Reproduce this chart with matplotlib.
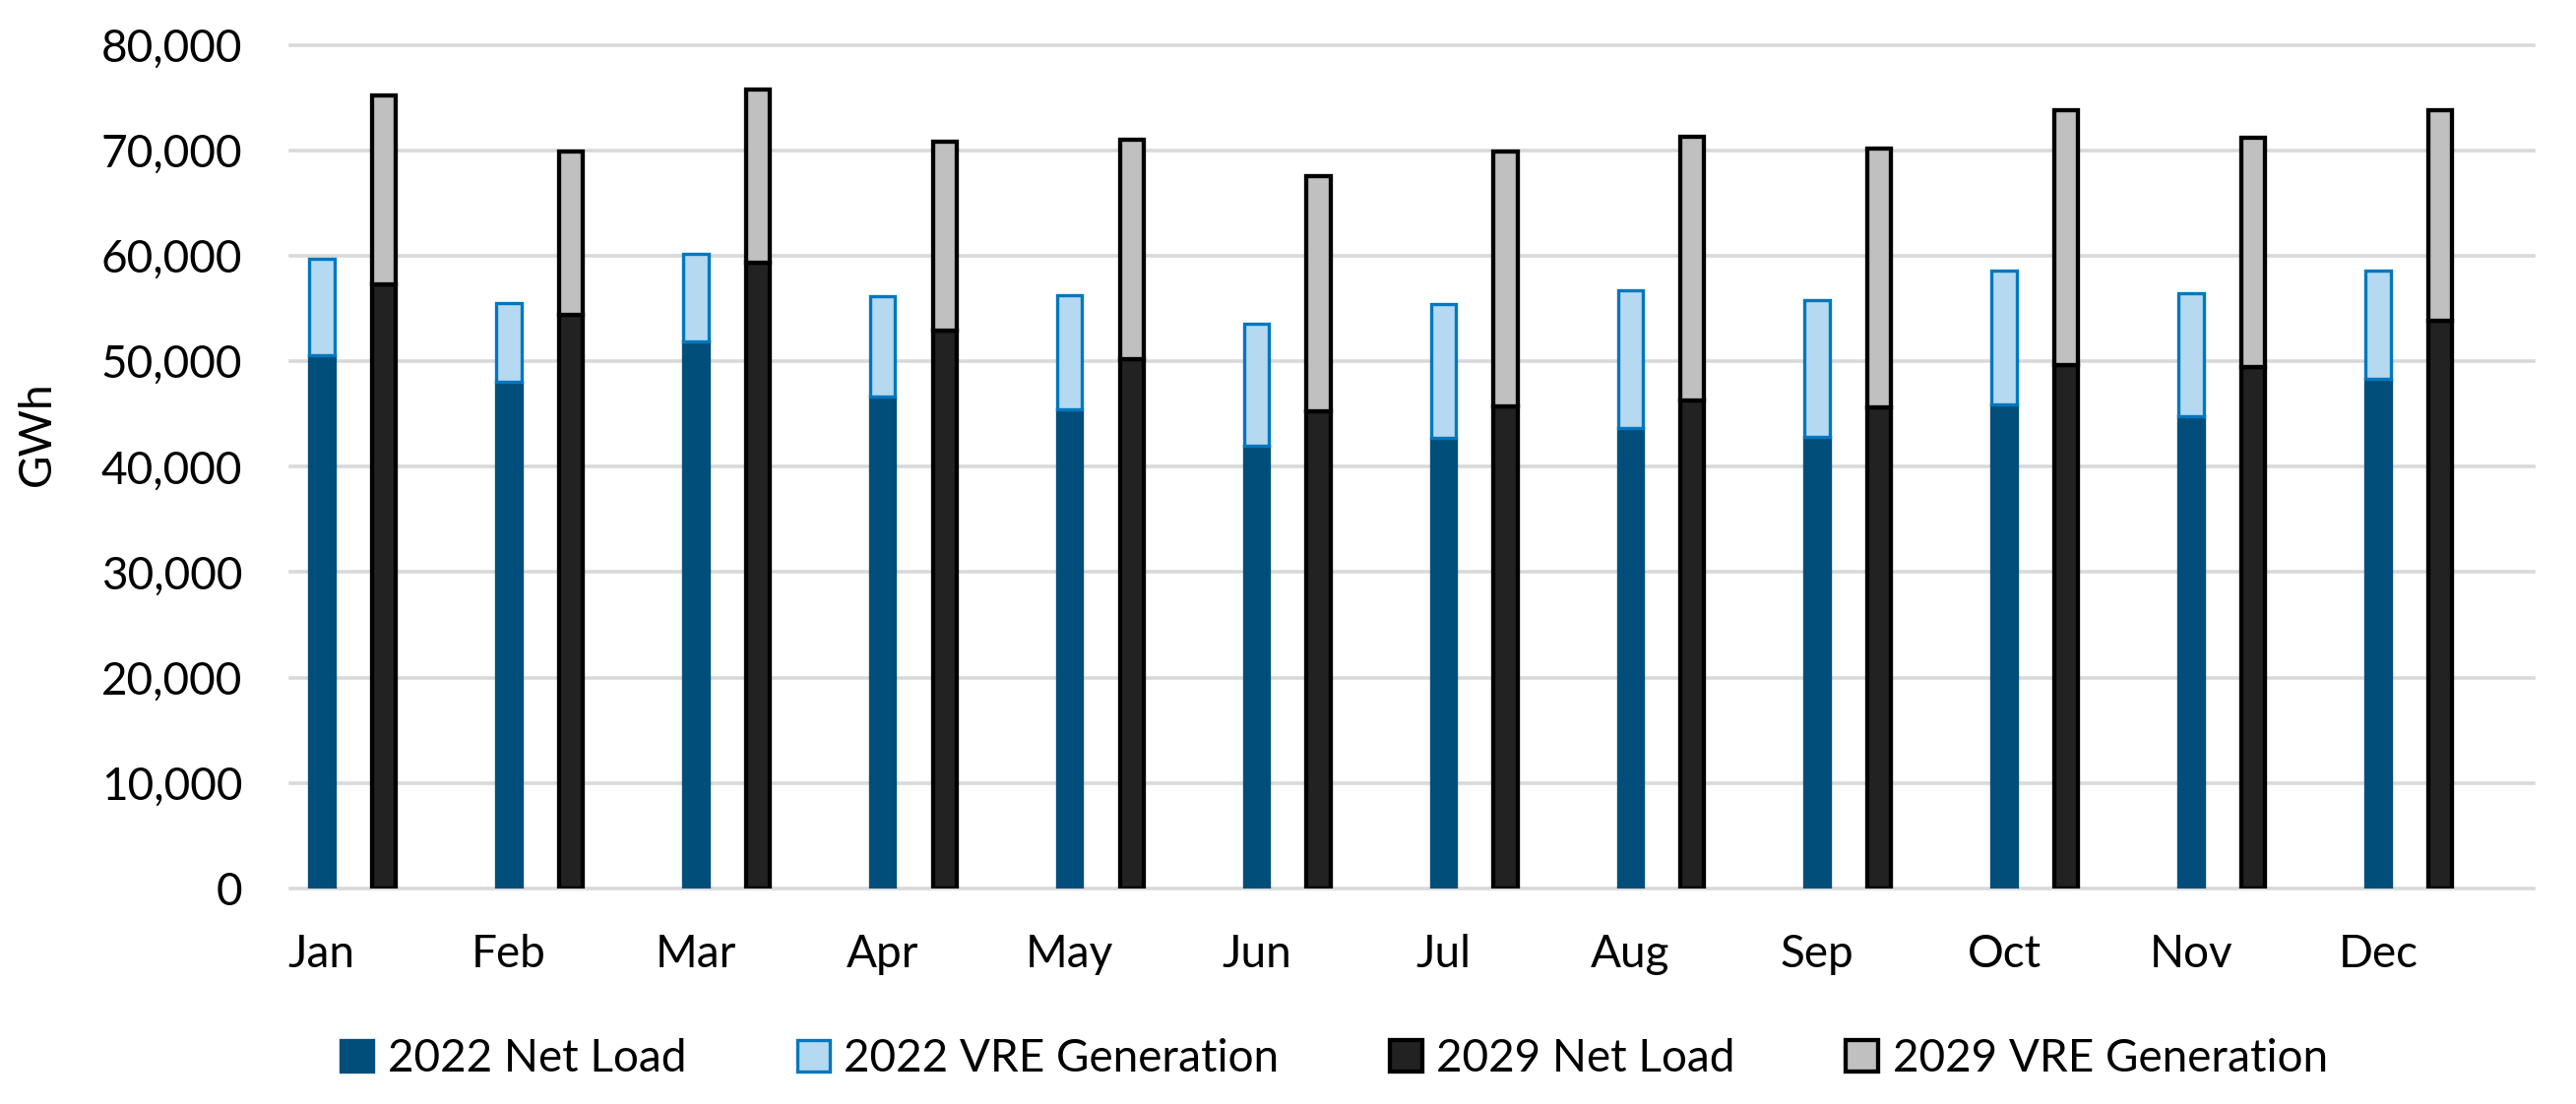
import matplotlib
matplotlib.use("Agg")
import matplotlib.pyplot as plt
import numpy as np
from matplotlib.ticker import FuncFormatter, MultipleLocator

months = ["Jan", "Feb", "Mar", "Apr", "May", "Jun", "Jul", "Aug", "Sep", "Oct", "Nov", "Dec"]
net_2022 = [50600, 48100, 51900, 46700, 45400, 42000, 42700, 43700, 42800, 45900, 44800, 48300]
vre_2022 = [9100, 7400, 8300, 9500, 10900, 11600, 12700, 13000, 13000, 12700, 11700, 10300]
net_2029 = [57300, 54400, 59300, 52900, 50200, 45300, 45700, 46300, 45600, 49600, 49500, 53800]
vre_2029 = [17900, 15500, 16500, 17900, 20800, 22300, 24200, 25000, 24600, 24200, 21700, 20000]
series_labels = ["2022 Net Load", "2022 VRE Generation", "2029 Net Load", "2029 VRE Generation"]

plt.rcParams['font.family'] = ['Lato', 'DejaVu Sans']
FS = 16.5

fig = plt.figure(figsize=(13.085, 5.61), dpi=200)
ax = fig.add_axes([0.1127, 0.1952, 0.9836 - 0.1127, 0.9593 - 0.1952])

x = np.arange(len(months))
off = 0.332
w22 = 0.135
w29 = 0.127
lw22 = 1.2
lw29 = 1.55

b1 = ax.bar(x, net_2022, width=w22, color='#024E7B', edgecolor='#024E7B', linewidth=lw22,
            label=series_labels[0], zorder=3)
b2 = ax.bar(x, vre_2022, width=w22, bottom=net_2022, color='#B5D9F0', edgecolor='#0077BE',
            linewidth=lw22, label=series_labels[1], zorder=3)
b3 = ax.bar(x + off, net_2029, width=w29, color='#222222', edgecolor='#000000', linewidth=lw29,
            label=series_labels[2], zorder=3)
b4 = ax.bar(x + off, vre_2029, width=w29, bottom=net_2029, color='#C0C0C0', edgecolor='#000000',
            linewidth=lw29, label=series_labels[3], zorder=3)

ax.set_xlim(-0.168, 11.832)
ax.set_ylim(0, 80000)
ax.yaxis.set_major_locator(MultipleLocator(10000))
ax.yaxis.set_major_formatter(FuncFormatter(lambda v, p: f"{int(v):,}"))
ax.set_xticks(x)
ax.set_xticklabels(months)
ax.tick_params(axis='both', length=0, labelsize=FS, colors='black')
ax.tick_params(axis='y', pad=17.5)
ax.tick_params(axis='x', pad=16.5)

for s in ax.spines.values():
    s.set_visible(False)
ax.set_axisbelow(True)
ax.yaxis.grid(True, color='#D9D9D9', linewidth=1.3)
for gl in ax.get_ygridlines():
    gl.set_clip_on(False)
ax.xaxis.grid(False)

ax.set_ylabel("GWh", fontsize=FS)
ax.yaxis.set_label_coords(-0.1035, 0.539)

fig.legend(handles=[b1, b2, b3, b4], labels=series_labels, loc='center',
           bbox_to_anchor=(0.518, 0.041), ncol=4, frameon=False, fontsize=FS,
           handlelength=0.72, handleheight=0.72, handletextpad=0.32, columnspacing=2.45)

fig.savefig("out.png", dpi=200)
